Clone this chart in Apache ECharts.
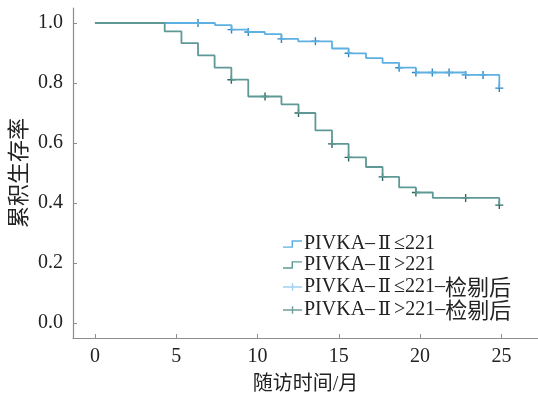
<!DOCTYPE html>
<html>
<head>
<meta charset="utf-8">
<script src="https://cdn.jsdelivr.net/npm/echarts@6/dist/echarts.min.js"></script>
<style>
  html, body { margin: 0; padding: 0; background: #fff; }
  #chart { width: 538px; height: 395px; }
</style>
</head>
<body>
<div id="chart"></div>
<script>
// 生存曲线数据
const lowTimes = [0, 7.38, 8.40, 9.43, 10.45, 11.47, 12.50, 14.58, 15.60, 16.67, 17.69, 18.71, 19.74, 22.80, 24.87];
const lowSurv = [1.0, 0.993, 0.978, 0.970, 0.963, 0.947, 0.939, 0.915, 0.899, 0.883, 0.867, 0.851, 0.835, 0.827, 0.783];
const lowCensorTimes = [6.34, 8.40, 9.43, 11.47, 13.56, 15.60, 18.71, 19.74, 20.75, 21.78, 22.80, 23.87, 24.87];
const lowCensorSurv = [1.0, 0.978, 0.970, 0.947, 0.939, 0.899, 0.851, 0.835, 0.835, 0.835, 0.827, 0.827, 0.783];

const highTimes = [0, 4.29, 5.32, 6.34, 7.36, 8.39, 9.43, 11.47, 12.52, 13.56, 14.58, 15.60, 16.67, 17.69, 18.71, 19.74, 20.78, 24.87];
const highSurv = [1.0, 0.972, 0.933, 0.892, 0.851, 0.811, 0.755, 0.729, 0.700, 0.642, 0.597, 0.552, 0.520, 0.487, 0.452, 0.435, 0.417, 0.393];
const highCensorTimes = [8.39, 10.46, 12.52, 14.58, 15.60, 17.69, 19.74, 22.80, 24.87];
const highCensorSurv = [0.811, 0.755, 0.700, 0.597, 0.552, 0.487, 0.435, 0.417, 0.393];

const xTicks = [0, 5, 10, 15, 20, 25];
const yTicks = [0, 0.2, 0.4, 0.6, 0.8, 1.0];

const seriesNames = ["PIVKA–Ⅱ≤221", "PIVKA–Ⅱ>221", "PIVKA–Ⅱ≤221–检剔后", "PIVKA–Ⅱ>221–检剔后"];

const FONT = "'Liberation Serif', 'Noto Sans CJK SC', serif";
const CJK = "'Noto Sans CJK SC', serif";
const AXIS_COLOR = "#8c8c8c";
const BLUE = "#5fb0e2";
const BLUE_DARK = "#2a87c6";
const TEAL = "#5f9996";
const TEAL_DARK = "#2b6864";

const zip = (a, b) => a.map((v, i) => [v, b[i]]);

// 图例图标
const stepIcon = "path://M0,6.5L9,6.5L9,0L20,0L20,1.5L10.5,1.5L10.5,8L0,8Z";
const plusIcon = "path://M0,3.25L20,3.25L20,4.75L0,4.75ZM9.25,0L10.75,0L10.75,8L9.25,8Z";
const crossSymbol = "path://M0,3.3L8,3.3L8,4.7L0,4.7ZM3.3,0L4.7,0L4.7,8L3.3,8Z";

// Ⅱ 和中文分别换字体
const legendFormatter = (name) => {
  return name.split(/(Ⅱ|[\u4e00-\u9fff]+)/).filter(p => p).map(p => {
    if (p === "Ⅱ") return "{r|Ⅱ}";
    if (/[\u4e00-\u9fff]/.test(p)) return "{c|" + p + "}";
    return "{s|" + p + "}";
  }).join("");
};

const chart = echarts.init(document.getElementById("chart"));

const option = {
  animation: false,
  grid: { left: 73, right: 0, top: 8, bottom: 57, outerBoundsMode: "none", containLabel: false },
  legend: {
    orient: "vertical",
    left: 278,
    top: 229,
    itemWidth: 19,
    itemHeight: 8,
    itemGap: 1,
    formatter: legendFormatter,
    textStyle: {
      fontFamily: FONT,
      fontSize: 20,
      color: "#222",
      padding: [0, 0, 0, -3],
      rich: {
        s: { fontFamily: FONT, fontSize: 20, color: "#222" },
        r: { fontFamily: "'DejaVu Serif', serif", fontSize: 19, color: "#222", padding: [0, 3, 0, 3] },
        c: { fontFamily: CJK, fontSize: 22, color: "#222" }
      }
    },
    data: [
      { name: seriesNames[0], icon: stepIcon, itemStyle: { color: BLUE } },
      { name: seriesNames[1], icon: stepIcon, itemStyle: { color: TEAL } },
      { name: seriesNames[2], icon: plusIcon, itemStyle: { color: "#9fd0ee" } },
      { name: seriesNames[3], icon: plusIcon, itemStyle: { color: "#6f9f9c" } }
    ]
  },
  xAxis: {
    type: "value",
    min: -1.35,
    max: 27.25,
    name: "随访时间/月",
    nameLocation: "middle",
    nameGap: 37,
    nameMoveOverlap: false,
    nameTextStyle: { fontFamily: FONT, fontSize: 20, color: "#222" },
    splitLine: { show: false },
    axisLine: { show: true, onZero: false, lineStyle: { color: AXIS_COLOR, width: 1.2 } },
    axisTick: { show: true, inside: true, length: 4, customValues: xTicks, lineStyle: { color: AXIS_COLOR } },
    axisLabel: { customValues: xTicks, margin: 9, fontFamily: FONT, fontSize: 20, color: "#222" }
  },
  yAxis: {
    type: "value",
    min: -0.05,
    max: 1.05,
    name: "累积生存率",
    nameLocation: "middle",
    nameGap: 42,
    nameMoveOverlap: false,
    nameTextStyle: { fontFamily: FONT, fontSize: 22, color: "#222" },
    splitLine: { show: false },
    axisLine: { show: true, onZero: false, lineStyle: { color: AXIS_COLOR, width: 1.2 } },
    axisTick: { show: true, inside: true, length: 4, customValues: yTicks, lineStyle: { color: AXIS_COLOR } },
    axisLabel: {
      customValues: yTicks,
      margin: 10,
      fontFamily: FONT,
      fontSize: 20,
      color: "#222",
      formatter: (v) => v.toFixed(1)
    }
  },
  series: [
    {
      name: seriesNames[0],
      type: "line",
      step: "end",
      showSymbol: false,
      data: zip(lowTimes, lowSurv),
      lineStyle: { color: BLUE, width: 1.8 },
      itemStyle: { color: BLUE }
    },
    {
      name: seriesNames[1],
      type: "line",
      step: "end",
      showSymbol: false,
      data: zip(highTimes, highSurv),
      lineStyle: { color: TEAL, width: 1.8 },
      itemStyle: { color: TEAL }
    },
    {
      name: seriesNames[2],
      type: "scatter",
      symbol: crossSymbol,
      symbolSize: 8,
      data: zip(lowCensorTimes, lowCensorSurv),
      itemStyle: { color: BLUE_DARK, opacity: 1 }
    },
    {
      name: seriesNames[3],
      type: "scatter",
      symbol: crossSymbol,
      symbolSize: 8,
      data: zip(highCensorTimes, highCensorSurv),
      itemStyle: { color: TEAL_DARK, opacity: 1 }
    }
  ]
};

chart.setOption(option);
</script>
</body>
</html>
